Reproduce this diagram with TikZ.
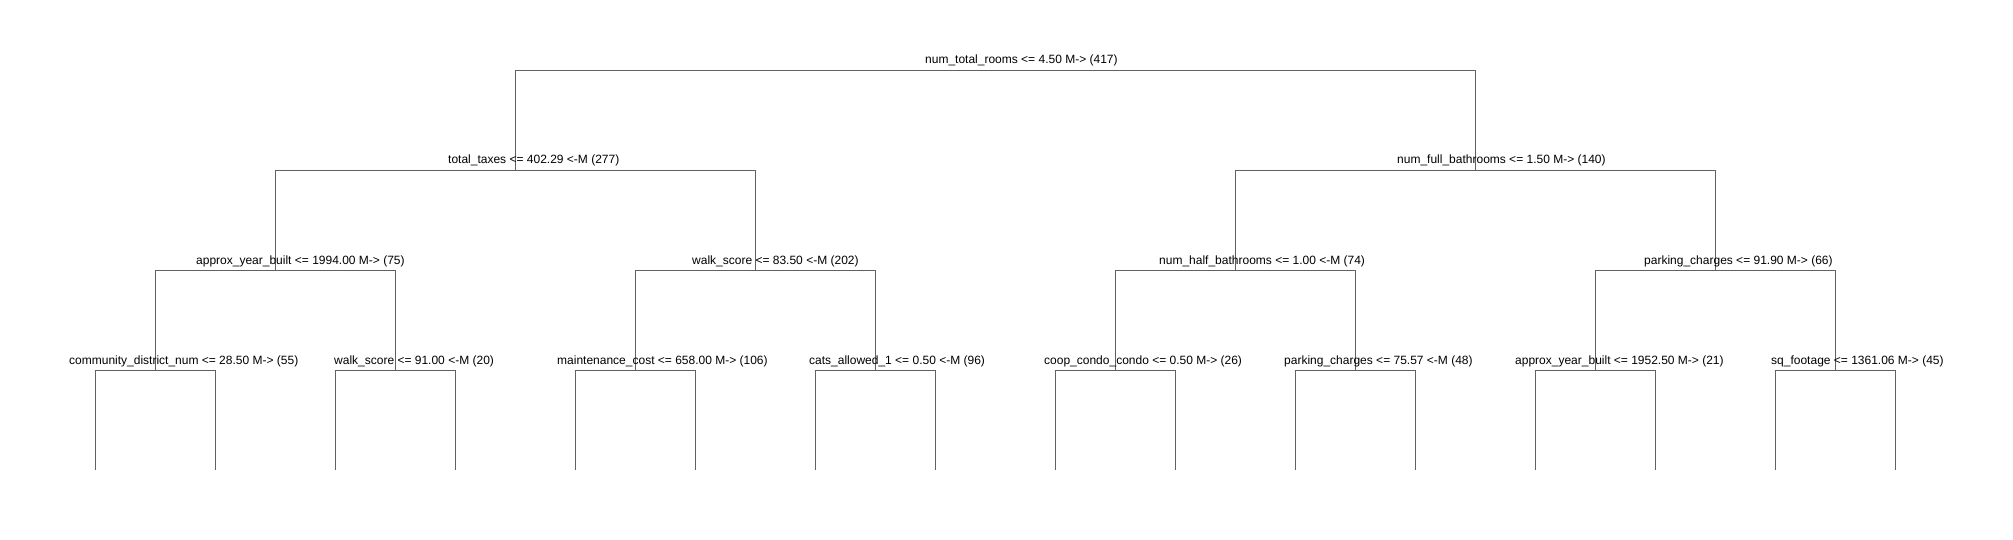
\documentclass[tikz,border=0pt]{standalone}
\usepackage{fontspec}
\setmainfont{Liberation Sans}
\begin{document}
\begin{tikzpicture}[x=1pt,y=-1pt]
\tikzset{
  edge/.style={draw=black!62, line width=0.9pt},
  lbl/.style={font=\fontsize{12}{14}\selectfont, inner sep=0pt, anchor=base west}
}
\useasboundingbox[fill=white] (0,0) rectangle (2013,540);
% split points
\coordinate (n1) at (995,70);
\coordinate (n2) at (515,170);
\coordinate (n3) at (1475,170);
\coordinate (n4) at (275,270);
\coordinate (n5) at (755,270);
\coordinate (n6) at (1235,270);
\coordinate (n7) at (1715,270);
\foreach \i/\x in {8/155,9/395,10/635,11/875,12/1115,13/1355,14/1595,15/1835}
  \coordinate (n\i) at (\x,370);
\foreach \i in {1,...,16}
  \coordinate (l\i) at ({95+120*(\i-1)},470);
% connectors
\foreach \p/\l/\r in {n1/n2/n3, n2/n4/n5, n3/n6/n7, n4/n8/n9, n5/n10/n11, n6/n12/n13, n7/n14/n15,
  n8/l1/l2, n9/l3/l4, n10/l5/l6, n11/l7/l8, n12/l9/l10, n13/l11/l12, n14/l13/l14, n15/l15/l16}
  \draw[edge] (\l) -- (\l |- \p) -- (\r |- \p) -- (\r);
% labels
\node[lbl] (t1) at (925,64) {num\_total\_rooms <= 4.50 M-> (417)};
\node[lbl] (t2) at (448,164) {total\_taxes <= 402.29 <-M (277)};
\node[lbl] (t3) at (1397,164) {num\_full\_bathrooms <= 1.50 M-> (140)};
\node[lbl] (t4) at (196,264) {approx\_year\_built <= 1994.00 M-> (75)};
\node[lbl] (t5) at (692,264) {walk\_score <= 83.50 <-M (202)};
\node[lbl] (t6) at (1159,264) {num\_half\_bathrooms <= 1.00 <-M (74)};
\node[lbl] (t7) at (1644,264) {parking\_charges <= 91.90 M-> (66)};
\node[lbl] (t8) at (69,364) {community\_district\_num <= 28.50 M-> (55)};
\node[lbl] (t9) at (334,364) {walk\_score <= 91.00 <-M (20)};
\node[lbl] (t10) at (557,364) {maintenance\_cost <= 658.00 M-> (106)};
\node[lbl] (t11) at (809,364) {cats\_allowed\_1 <= 0.50 <-M (96)};
\node[lbl] (t12) at (1044,364) {coop\_condo\_condo <= 0.50 M-> (26)};
\node[lbl] (t13) at (1284,364) {parking\_charges <= 75.57 <-M (48)};
\node[lbl] (t14) at (1515,364) {approx\_year\_built <= 1952.50 M-> (21)};
\node[lbl] (t15) at (1771,364) {sq\_footage <= 1361.06 M-> (45)};
\end{tikzpicture}
\end{document}
